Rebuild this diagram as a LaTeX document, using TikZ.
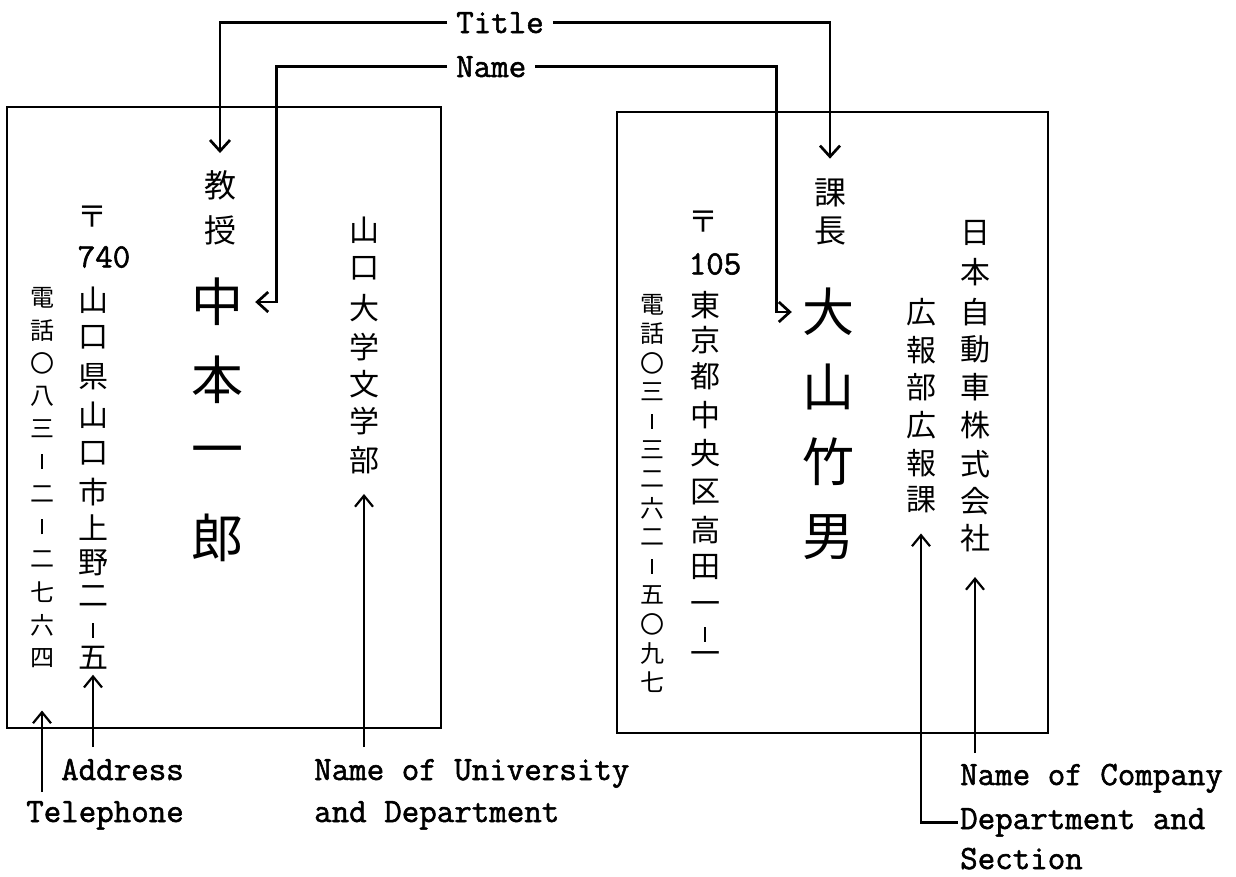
\documentclass[tikz,border=0pt]{standalone}
\usepackage{fontspec}
\newfontfamily\cjk{Noto Sans CJK JP}
\newfontfamily\monof[FakeBold=1.6]{Latin Modern Mono}
\usetikzlibrary{arrows.meta}
\newcommand\tatebo{\rule[-7pt]{1.4pt}{15pt}}
\begin{document}
\begin{tikzpicture}[x=1pt,y=-1pt,
  card/.style={draw,line width=1.3pt},
  conn/.style={line width=2.7pt,-{Straight Barb[length=11pt,width=20pt]}},
  up/.style={line width=2.2pt,-{Straight Barb[length=11pt,width=18pt]}},
  upr/.style={line width=2.2pt,{Straight Barb[length=11pt,width=18pt]}-},
  lbl/.style={font=\fontsize{34}{40}\selectfont\monof,inner sep=0pt},
  telf/.style={font=\cjk\fontsize{24}{24}\selectfont,inner sep=0pt},
  adrf/.style={font=\cjk\fontsize{30}{30}\selectfont,inner sep=0pt},
  ttlf/.style={font=\cjk\fontsize{32}{32}\selectfont,inner sep=0pt},
  bigf/.style={font=\cjk\fontsize{52}{52}\selectfont,inner sep=0pt},
  numf/.style={font=\fontsize{34}{34}\selectfont\monof,inner sep=0pt},
]
\useasboundingbox (0,0) rectangle (1236,876);
\fill[white] (0,0) rectangle (1236,876);

% cards
\draw[card] (7,107) rectangle (441,728);
\draw[card] (617,112) rectangle (1048,733);

% ---- left card ----
\foreach \c [count=\i] in {電,話,〇,八,三,\tatebo,二,\tatebo,二,七,六,四}
  \node[telf] (ltel\i) at (42,{298+32.7*(\i-1)}) {\c};
\node[adrf] (lpost) at (92,217) {〒};
\node[numf] (lzip) at (104,257) {740};
\foreach \c/\y [count=\i] in {山/300,口/337,県/377,山/415,口/453,市/492,上/528,野/563,二/596,\tatebo/630,五/658}
  \node[adrf] (ladr\i) at (93,\y) {\c};
\node[ttlf] (lttl1) at (220,185) {教};
\node[ttlf] (lttl2) at (220,230) {授};
\foreach \c/\y [count=\i] in {中/302,本/380,一/457,郎/538}
  \node[bigf] (lnm\i) at (217,\y) {\c};
\foreach \c/\y [count=\i] in {山/230,口/268,大/308,学/347,文/384,学/421,部/460}
  \node[adrf] (luni\i) at (364,\y) {\c};

% ---- right card ----
\foreach \c [count=\i] in {電,話,〇,三,\tatebo,三,二,六,二,\tatebo,五,〇,九,七}
  \node[telf] (rtel\i) at (652,{305+29*(\i-1)}) {\c};
\node[adrf] (rpost) at (703,222) {〒};
\node[numf] (rzip) at (715,264) {105};
\foreach \c/\y [count=\i] in {東/305,京/340,都/376,中/415,央/453,区/492,高/530,田/567,一/608,\tatebo/634,一/658}
  \node[adrf] (radr\i) at (705,\y) {\c};
\node[ttlf] (rttl1) at (830,193) {課};
\node[ttlf] (rttl2) at (830,231) {長};
\foreach \c/\y [count=\i] in {大/312,山/387,竹/462,男/537}
  \node[bigf] (rnm\i) at (828,\y) {\c};
\foreach \c/\y [count=\i] in {広/312,報/350,部/387,広/425,報/463,課/500}
  \node[adrf] (rdep\i) at (921,\y) {\c};
\foreach \c/\y [count=\i] in {日/233,本/272,自/312,動/349,車/387,株/425,式/464,会/501,社/538}
  \node[adrf] (rco\i) at (975,\y) {\c};

% ---- labels ----
\node[lbl,anchor=base west,inner xsep=9pt] (title) at (447,33) {Title};
\node[lbl,anchor=base west,inner xsep=9pt] (name) at (447,77) {Name};
\node[lbl,anchor=base west] (addr) at (61,780) {Address};
\node[lbl,anchor=base west] (tel) at (26,822) {Telephone};
\node[lbl,anchor=base west] (uni1) at (314,780) {Name of University};
\node[lbl,anchor=base west] (uni2) at (314,822) {and Department};
\node[lbl,anchor=base west] (co) at (960,785) {Name of Company};
\node[lbl,anchor=base west,inner xsep=2pt] (dep1) at (958,829) {Department and};
\node[lbl,anchor=base west] (dep2) at (960,869) {Section};

% ---- connectors ----
\draw[conn] (title.west) -| ([yshift=17pt]lttl1.north);
\draw[conn] (title.east) -| ([yshift=20pt]rttl1.north);
\draw[conn] (name.west) -| ([xshift=33pt]lnm1.east) -- ([xshift=12pt]lnm1.east);
\draw[conn] (name.east) -| ([xshift=-25pt]rnm1.west) -- ([xshift=-10pt]rnm1.west);

\coordinate (telT) at (42,792);
\coordinate (adrT) at (93,747);
\coordinate (uniT) at (364,747);
\coordinate (coT) at (975,753);
\draw[up] (telT) -- ([yshift=-43pt]ltel12.south);
\draw[up] (adrT) -- ([yshift=-5pt]ladr11.south);
\draw[up] (uniT) -- ([yshift=-20pt]luni7.south);
\draw[up] (coT) -- ([yshift=-25pt]rco9.south);
\draw[upr] ([yshift=-20pt]rdep6.south) |- (dep1.west);
\end{tikzpicture}
\end{document}
